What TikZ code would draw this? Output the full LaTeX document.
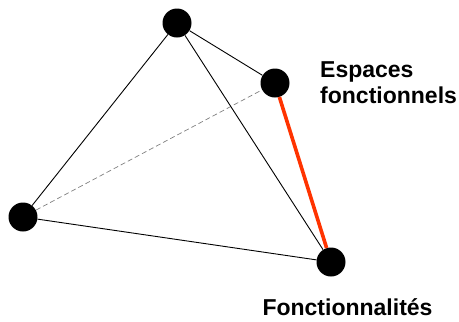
\documentclass[tikz,border=0pt]{standalone}
\usepackage{fontspec}
\setmainfont{Liberation Sans}
\usetikzlibrary{positioning}
\definecolor{redline}{HTML}{FF3300}

\begin{document}
\begin{tikzpicture}[
    x=1pt, y=-1pt,
    vertex/.style={
        circle, fill=black, inner sep=0pt, minimum size=29pt
    },
    edge/.style={black, line width=0.9pt},
    hidden/.style={gray, dashed, dash pattern=on 5pt off 3pt, line width=0.7pt},
    focus/.style={redline, line width=3.6pt},
    label/.style={font=\fontsize{23}{26}\selectfont\bfseries, inner sep=0pt},
]
\useasboundingbox (0,0) rectangle (459,322);

\node[vertex] (top)   at (177,23)  {};
\node[vertex] (esp)   at (275,83)  {};
\node[vertex] (left)  at (23,217)  {};
\node[vertex] (fonc)  at (331,262) {};

\draw[hidden] (left) -- (esp);
\draw[edge] (top) -- (left);
\draw[edge] (top) -- (esp);
\draw[edge] (top) -- (fonc);
\draw[edge] (left) -- (fonc);
\draw[focus] (esp) -- (fonc);

\node[label, anchor=base west, align=left] (esplbl) at (320,103) {Espaces\\fonctionnels};
\node[label, anchor=base] (fonclbl) at (347.5,315) {Fonctionnalités};

\end{tikzpicture}
\end{document}
